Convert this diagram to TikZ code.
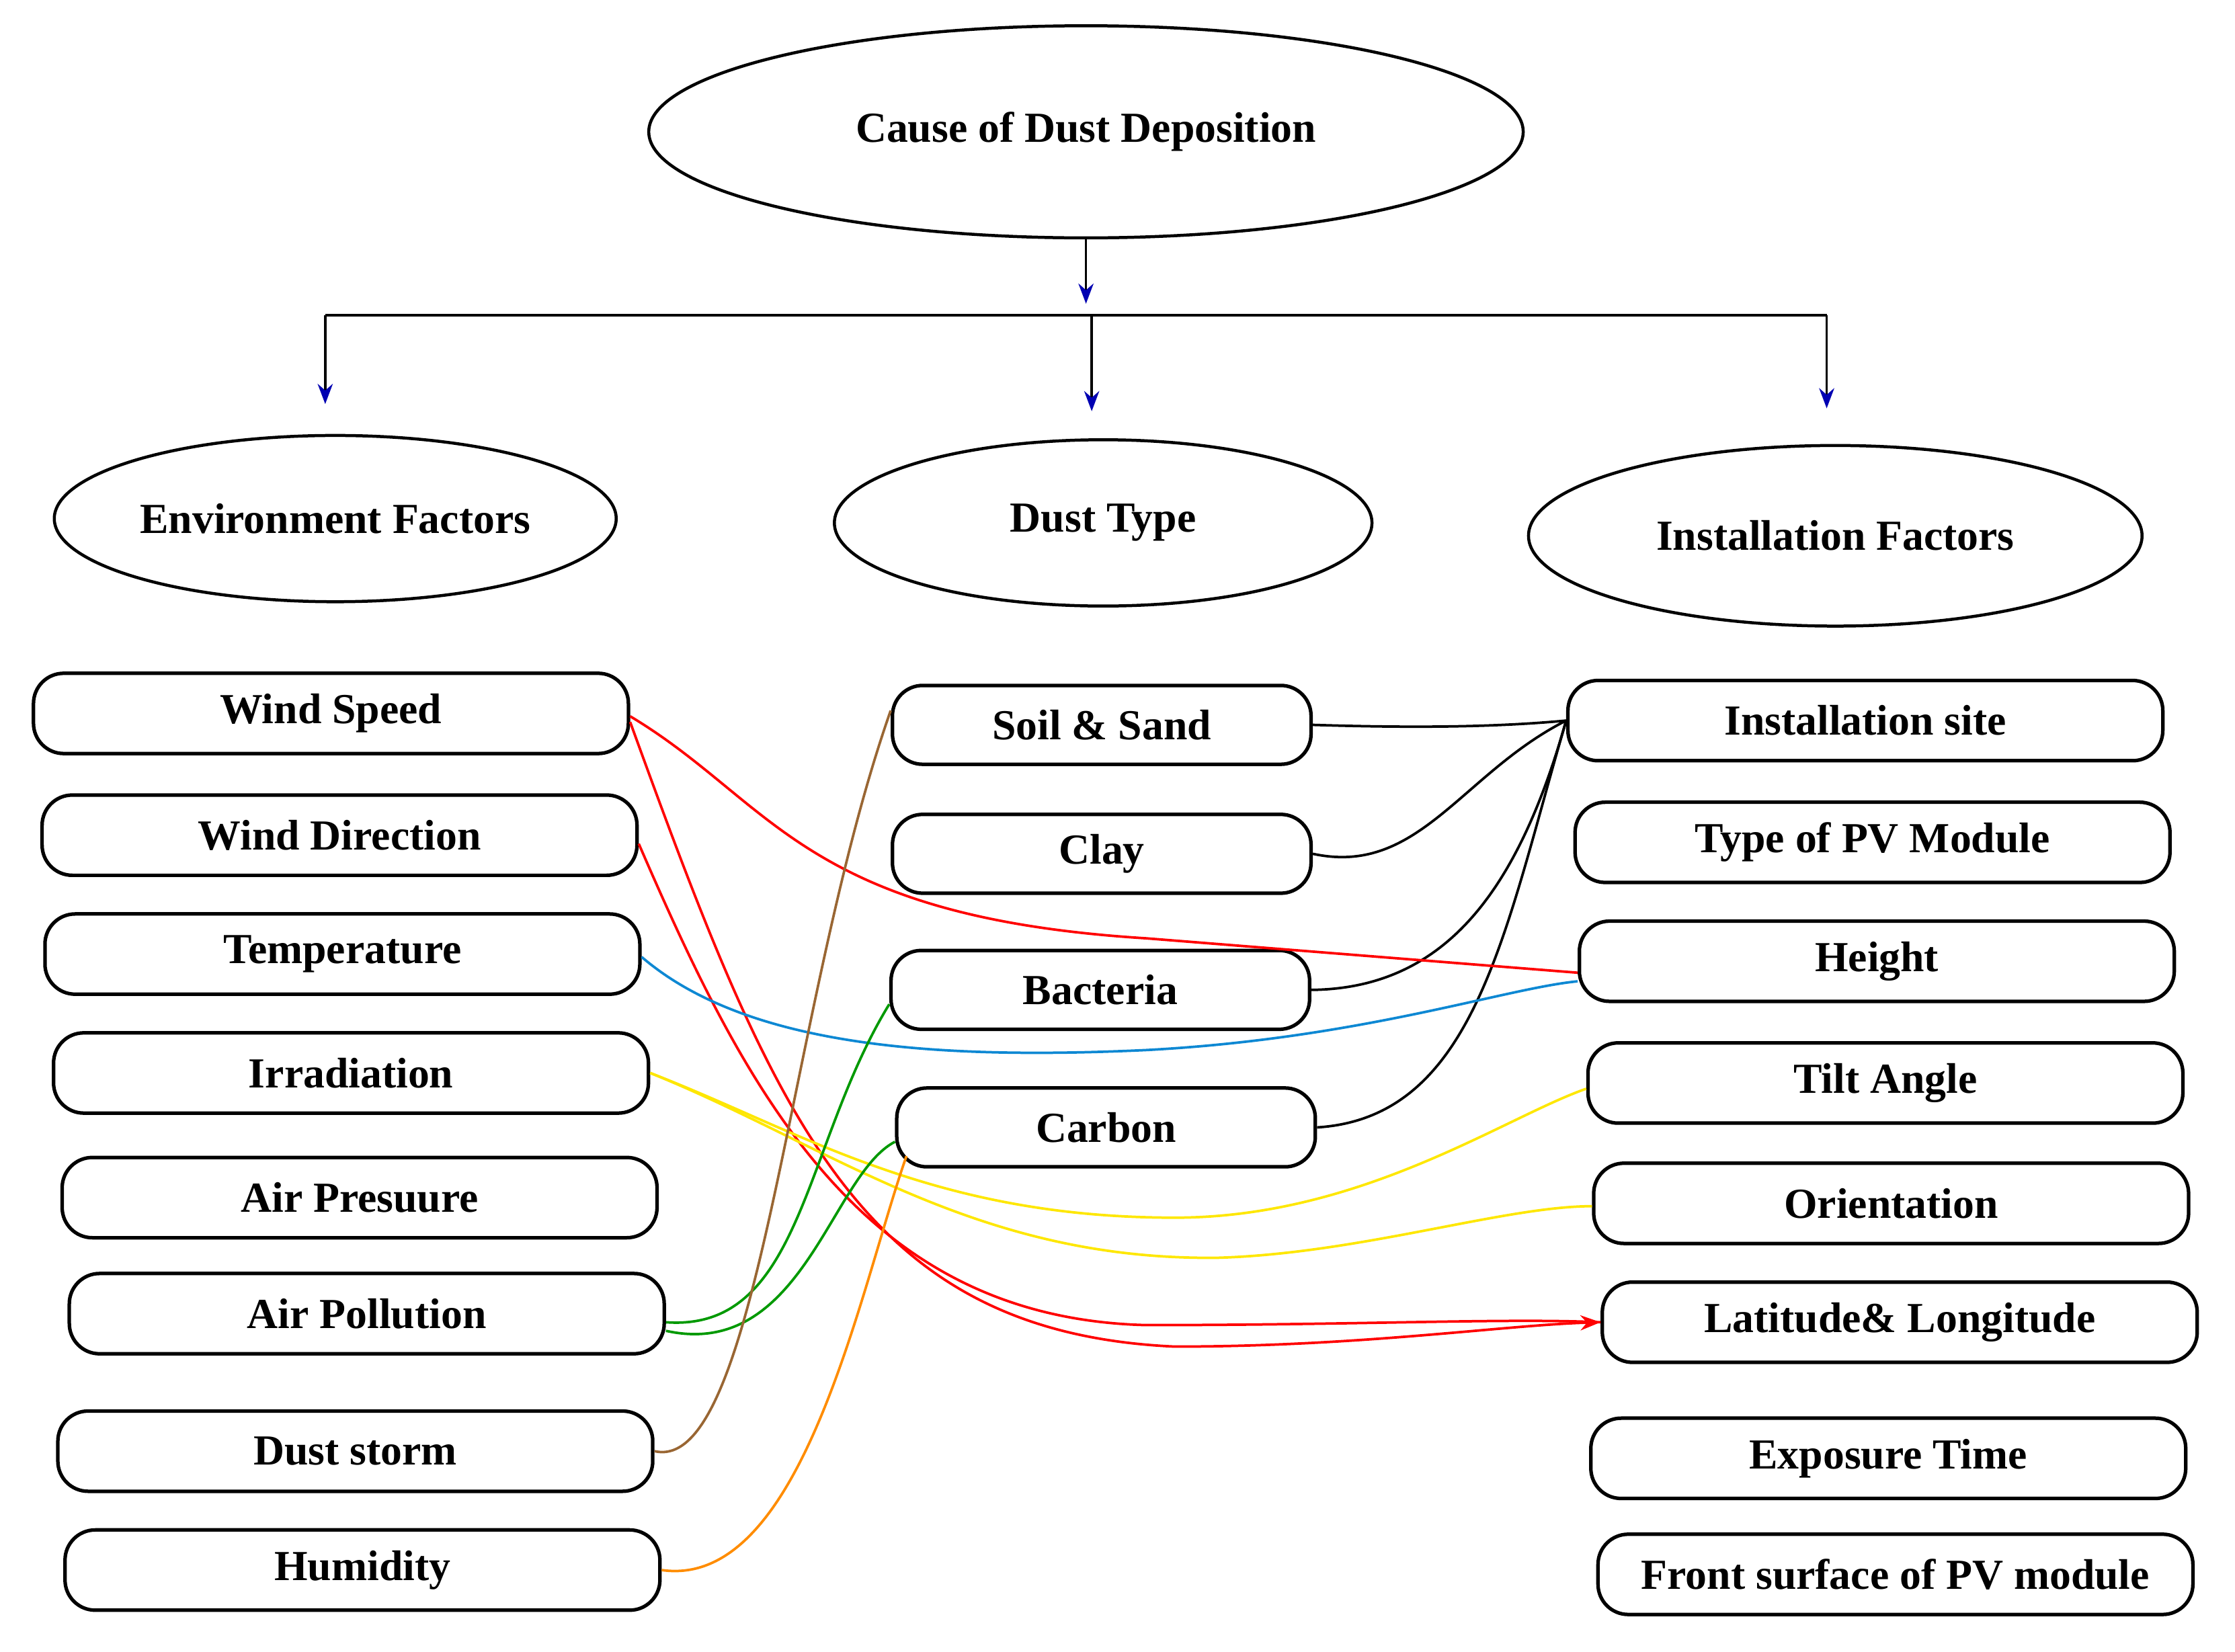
\documentclass[tikz,border=0pt]{standalone}
\usepackage{fontspec}
\setmainfont{Liberation Serif}
\usetikzlibrary{shapes.geometric,arrows.meta}
\begin{document}
\begin{tikzpicture}[x=0.01cm,y=-0.01cm,
  every node/.style={font=\fontsize{8.5}{10}\selectfont\bfseries},
  ell/.style={draw,ellipse,line width=0.6pt,inner sep=0pt},
  box/.style={draw,rounded corners=6pt,line width=0.7pt,minimum width=4.15cm,minimum height=0.56cm,inner sep=0pt},
  mbox/.style={box,minimum width=2.92cm,minimum height=0.55cm},
  con/.style={line width=0.5pt},
  arr/.style={-{Stealth[length=4pt,width=3pt,color=blue!70!black]},line width=0.5pt}]
\useasboundingbox (0,0) rectangle (1560,1153);
\node[ell,minimum width=6.1cm,minimum height=1.48cm] (top) at (758,92) {Cause of Dust Deposition};
\node[ell,minimum width=3.92cm,minimum height=1.16cm] (env) at (234,362) {Environment Factors};
\node[ell,minimum width=3.75cm,minimum height=1.16cm] (dt) at (770,365) {Dust Type};
\node[ell,minimum width=4.28cm,minimum height=1.26cm] (inst) at (1281,374) {Installation Factors};
% left
\node[box] (ws) at (231,498) {Wind Speed};
\node[box] (wd) at (237,583) {Wind Direction};
\node[box] (te) at (239,666) {Temperature};
\node[box] (ir) at (245,749) {Irradiation};
\node[box] (ap) at (251,836) {Air Presuure};
\node[box] (pol) at (256,917) {Air Pollution};
\node[box] (ds) at (248,1013) {Dust storm};
\node[box] (hu) at (253,1096) {Humidity};
% middle
\node[mbox] (ss) at (769,506) {Soil \& Sand};
\node[mbox] (cl) at (769,596) {Clay};
\node[mbox] (ba) at (768,691) {Bacteria};
\node[mbox] (ca) at (772,787) {Carbon};
% right
\node[box] (is) at (1302,503) {Installation site};
\node[box] (pv) at (1307,588) {Type of PV Module};
\node[box] (he) at (1310,671) {Height};
\node[box] (ta) at (1316,756) {Tilt Angle};
\node[box] (or) at (1320,840) {Orientation};
\node[box] (ll) at (1326,923) {Latitude\& Longitude};
\node[box] (et) at (1318,1018) {Exposure Time};
\node[box] (fs) at (1323,1099) {Front surface of PV module};
% tree
\coordinate (j) at (758,212);
\coordinate (hl) at (227,220);
\coordinate (hr) at (1275,220);
\coordinate (hm) at (762,220);
\draw[arr] (top.south) -- (j);
\draw[line width=0.5pt] (hl) -- (hr);
\draw[arr] (hl) -- ([yshift=-0.62cm]hl);
\draw[arr] (hm) -- ([yshift=-0.67cm]hm);
\draw[arr] (hr) -- ([yshift=-0.65cm]hr);
% black
\draw[con] (ss.east) .. controls (980,508) and (1040,508) .. (is.west);
\draw[con] (cl.east) .. controls (990,612) and (1020,540) .. (is.west);
\draw[con] (ba.east) .. controls (1010,690) and (1060,620) .. (is.west);
\draw[con] (ca.east) .. controls (1030,780) and (1050,650) .. (is.west);
% red
\draw[con,red] ([yshift=-0.02cm]ws.east) .. controls (540,560) and (560,640) .. (800,655) -- ([yshift=-0.08cm]he.west);
\draw[con,red,-{Stealth[length=4pt]}] ([yshift=-0.06cm]ws.east) .. controls (540,780) and (600,930) .. (820,940) .. controls (950,940) and (1050,925) .. (ll.west);
\draw[con,red] ([yshift=-0.06cm]wd.east) .. controls (520,760) and (600,920) .. (800,925) .. controls (950,925) and (1050,920) .. (ll.west);
% blue
\draw[con,cyan!70!blue] ([yshift=-0.02cm]te.east) .. controls (520,730) and (650,740) .. (800,733) .. controls (950,725) and (1050,690) .. ([yshift=-0.14cm]he.west);
% yellow
\draw[con,yellow!90!orange] (ir.east) .. controls (560,790) and (650,850) .. (820,850) .. controls (950,850) and (1050,780) .. ([yshift=-0.04cm]ta.west);
\draw[con,yellow!90!orange] (ir.east) .. controls (580,800) and (680,880) .. (850,878) .. controls (950,875) and (1050,842) .. ([yshift=-0.02cm]or.west);
% green
\draw[con,green!60!black] ([yshift=-0.06cm]pol.east) .. controls (560,930) and (560,800) .. ([yshift=-0.1cm]ba.west);
\draw[con,green!60!black] ([yshift=-0.12cm]pol.east) .. controls (560,950) and (580,820) .. ([yshift=-0.1cm]ca.west);
% brown
\draw[con,brown!80!black] (ds.east) .. controls (530,1030) and (550,700) .. ([yshift=0.1cm]ss.west);
% orange
\draw[con,orange!90!yellow] (hu.east) .. controls (560,1110) and (600,900) .. ([xshift=0.08cm,yshift=-0.2cm]ca.west);
\end{tikzpicture}
\end{document}
